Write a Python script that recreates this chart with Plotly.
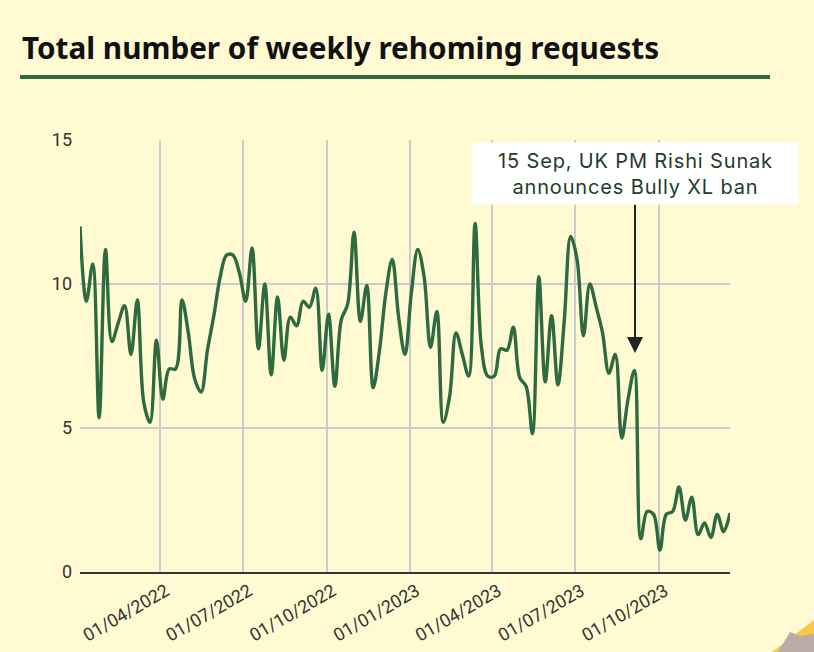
import pandas as pd
import plotly.graph_objects as go

requests = [12.0, 9.4, 10.7, 5.35, 11.2, 8.0, 8.65, 9.25, 7.55, 9.45,
            5.9, 5.2, 8.05, 6.0, 7.05, 7.05, 9.45, 8.3, 6.7, 6.25,
            7.7, 8.9, 10.25, 11.0, 11.0, 10.4, 9.4, 11.25, 7.75, 10.0,
            6.85, 9.55, 7.35, 8.85, 8.55, 9.4, 9.2, 9.85, 7.0, 8.95,
            6.45, 8.75, 9.3, 11.8, 8.7, 9.95, 6.4, 7.7, 9.7, 10.85,
            8.85, 7.55, 9.7, 11.2, 10.25, 7.8, 9.05, 5.2, 6.1, 8.3,
            7.55, 6.8, 12.1, 7.8, 6.8, 6.8, 7.75, 7.7, 8.5, 6.75,
            6.45, 4.8, 10.25, 6.6, 8.9, 6.5, 8.75, 11.65, 10.85, 8.2,
            10.0, 9.2, 8.3, 6.9, 7.55, 4.65, 6.0, 7.0, 1.15, 2.1,
            2.0, 0.76, 2.0, 2.1, 2.95, 1.8, 2.6, 1.3, 1.7, 1.2,
            2.0, 1.4, 2.04]
weeks = pd.date_range("2022-01-03", periods=len(requests), freq="7D")
x_ticks = ["2022-04-01", "2022-07-01", "2022-10-01", "2023-01-01",
           "2023-04-01", "2023-07-01", "2023-10-01"]
x_labels = ["01/04/2022", "01/07/2022", "01/10/2022", "01/01/2023",
            "01/04/2023", "01/07/2023", "01/10/2023"]
y_ticks = [0, 5, 10, 15]

W, H = 814, 652
L, R, T, B = 80, 84, 140, 80
BG = "#FFFAD2"
GREEN = "#2D6A3F"
GRID = "#CCCCD0"


def px(v):
    return (v - L) / (W - L - R)


def py(v):
    return 1 - (v - T) / (H - T - B)


fig = go.Figure(go.Scatter(x=weeks, y=requests, mode="lines",
                           line=dict(color=GREEN, width=3.4, shape="spline", smoothing=1),
                           hoverinfo="x+y", cliponaxis=False))

fig.update_layout(
    width=W, height=H, autosize=False,
    margin=dict(l=L, r=R, t=T, b=B, autoexpand=False),
    paper_bgcolor=BG, plot_bgcolor=BG, showlegend=False,
    font=dict(family="Roboto", color="#333333"),
    xaxis=dict(range=[weeks[0], weeks[-1]], type="date", tickmode="array",
               tickvals=x_ticks, ticktext=x_labels, tickangle=-30, automargin=False,
               tickfont=dict(size=18, color="#333333"), ticklabelshift=6,
               showgrid=True, gridcolor=GRID, gridwidth=1.5,
               showline=True, linecolor="#333333", linewidth=1.5,
               ticks="", zeroline=False),
    yaxis=dict(range=[0, 15], tickmode="array", tickvals=y_ticks, automargin=False,
               tickfont=dict(size=18, color="#333333"), ticklabelstandoff=7,
               showgrid=True, gridcolor=GRID, gridwidth=1.5,
               zeroline=False, ticks="", ticklen=0, showline=False),
    shapes=[
        dict(type="line", xref="paper", yref="paper", x0=px(20), x1=px(770),
             y0=py(77), y1=py(77), line=dict(color=GREEN, width=4)),
        dict(type="path", xref="paper", yref="paper", fillcolor="#F9C846", line_width=0,
             path=f"M {px(772)} {py(652)} L {px(814)} {py(620)} L {px(814)} {py(652)} Z"),
        dict(type="path", xref="paper", yref="paper", fillcolor="#B9ADA5", line_width=0,
             path=f"M {px(778)} {py(652)} L {px(790)} {py(632)} L {px(800)} {py(636)} "
                  f"L {px(814)} {py(634)} L {px(814)} {py(652)} Z"),
    ],
    annotations=[
        dict(xref="paper", yref="paper", x=px(20), y=py(48), xanchor="left", yanchor="middle",
             text="<b>Total number of weekly rehoming requests</b>", showarrow=False,
             font=dict(family="Noto Sans", size=29.7, color="#111111")),
        dict(xref="paper", yref="paper", x=px(635), y=py(353), ax=0, ay=-150,
             axref="pixel", ayref="pixel", text="", showarrow=True,
             arrowhead=2, arrowsize=1.6, arrowwidth=2, arrowcolor="#222222"),
        dict(xref="paper", yref="paper", x=px(635.5), y=py(173.5), xanchor="center", yanchor="middle",
             text="15 Sep, UK PM Rishi Sunak<br>announces Bully XL ban", showarrow=False,
             align="center", width=323, height=59, bgcolor="#FFFFFF",
             font=dict(family="Inter", size=20, color="#1F3D2B")),
    ],
)
fig.write_html("out.html", config={"displayModeBar": False}, post_script=(
    "document.body.style.margin='0';document.body.style.overflow='hidden';"
    "document.body.style.background='" + BG + "';"
    "document.querySelectorAll('.annotation-text').forEach(function(t,i){"
    "if(t.textContent.indexOf('Sunak')>=0){t.style.letterSpacing='0.85px';}});"))
